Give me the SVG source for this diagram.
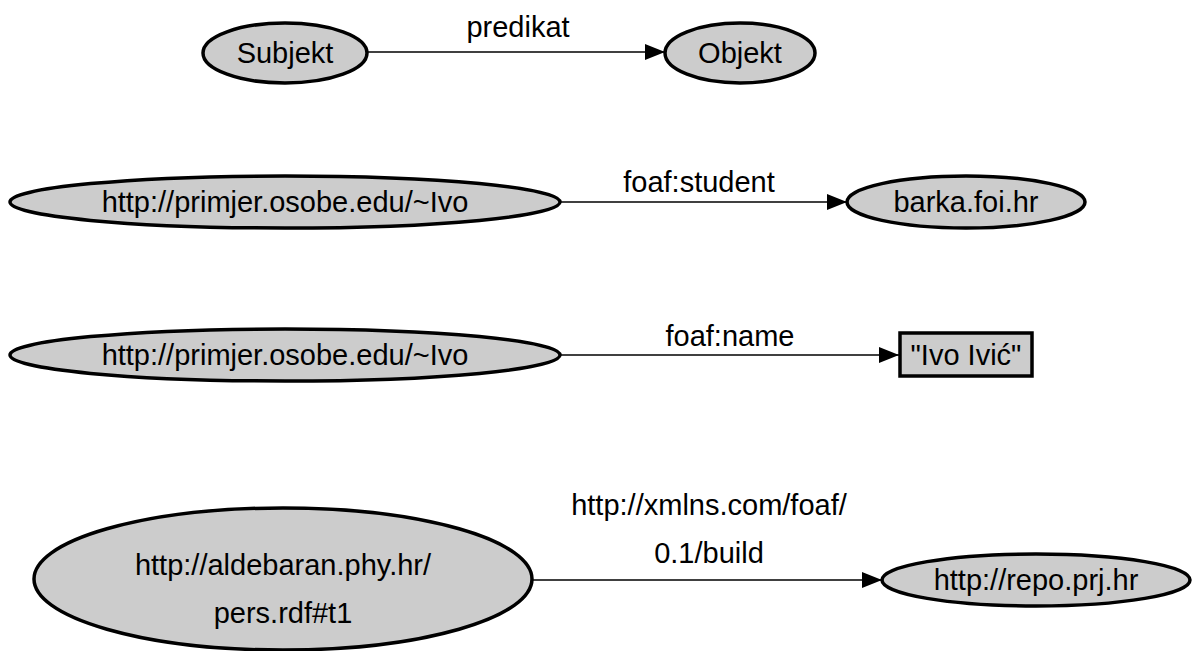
<svg xmlns="http://www.w3.org/2000/svg" width="1194" height="651" viewBox="0 0 1194 651">
<defs>
<marker id="ah" markerWidth="20" markerHeight="16" refX="20" refY="8" orient="auto" markerUnits="userSpaceOnUse">
<path d="M0,0 L20,8 L0,16 Z" fill="#000"/>
</marker>
<style>
.n{fill:#cccccc;stroke:#000;stroke-width:3.5}
.e{stroke:#000;stroke-width:1.6;fill:none;marker-end:url(#ah)}
text{font-family:"Liberation Sans",Arial,Helvetica,sans-serif;font-size:29px;fill:#000;text-anchor:middle}
</style>
</defs>
<rect width="1194" height="651" fill="#fff"/>
<g id="connectors">
<line class="e" x1="367" y1="52" x2="665" y2="52"/>
<text x="518" y="37">predikat</text>
<line class="e" x1="560" y1="202" x2="847" y2="202"/>
<text x="699" y="192">foaf:student</text>
<line class="e" x1="560" y1="355" x2="899" y2="355"/>
<text x="730" y="346">foaf:name</text>
<line class="e" x1="532" y1="580" x2="882" y2="580"/>
<text x="709" y="515">http://xmlns.com/foaf/</text>
<text x="709" y="563">0.1/build</text>
</g>
<g id="subjekt"><ellipse class="n" cx="285" cy="53" rx="82" ry="30"/><text x="285" y="63">Subjekt</text></g>
<g id="objekt"><ellipse class="n" cx="740" cy="53" rx="75" ry="30"/><text x="740" y="63">Objekt</text></g>
<g id="ivo1"><ellipse class="n" cx="285" cy="202" rx="275" ry="26"/><text x="285" y="212">http://primjer.osobe.edu/~Ivo</text></g>
<g id="barka"><ellipse class="n" cx="966" cy="202" rx="119" ry="26"/><text x="966" y="212">barka.foi.hr</text></g>
<g id="ivo2"><ellipse class="n" cx="285" cy="355" rx="275" ry="26"/><text x="285" y="365">http://primjer.osobe.edu/~Ivo</text></g>
<g id="ivoivic"><rect class="n" x="900" y="333" width="132" height="43" stroke-width="2"/><text x="966" y="365">"Ivo Ivić"</text></g>
<g id="aldebaran"><ellipse class="n" cx="283" cy="579" rx="249" ry="71"/><text x="283" y="575">http://aldebaran.phy.hr/</text><text x="283" y="623">pers.rdf#t1</text></g>
<g id="repo"><ellipse class="n" cx="1036" cy="580" rx="154" ry="26"/><text x="1036" y="590">http://repo.prj.hr</text></g>
</svg>
